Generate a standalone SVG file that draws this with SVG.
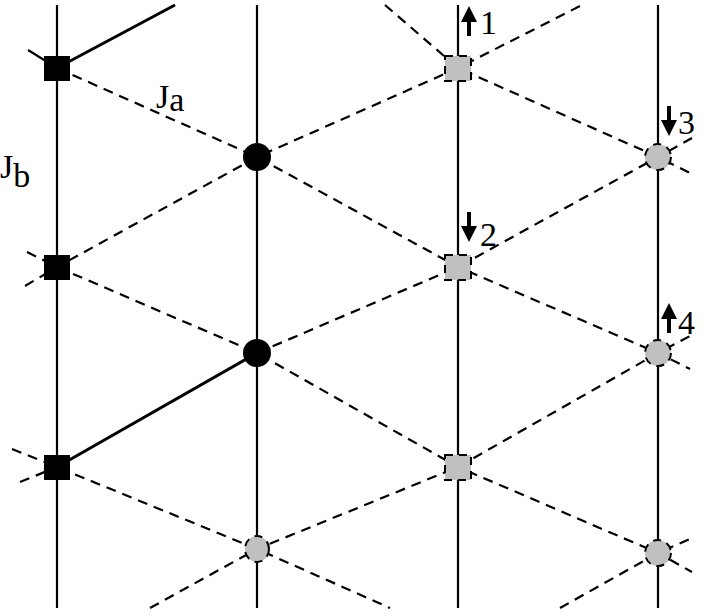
<svg xmlns="http://www.w3.org/2000/svg" width="707" height="616" viewBox="0 0 707 616">
<style>
.v{stroke:#000;stroke-width:2.2;fill:none}
.d{stroke:#000;stroke-width:2.2;fill:none;stroke-dasharray:10 7}
.s{stroke:#000;stroke-width:3;fill:none}
.t{font-family:"Liberation Serif","DejaVu Serif",serif;font-size:34px;fill:#000}
.g{fill:#c0c0c0;stroke:#000;stroke-width:2;stroke-dasharray:8 6}
</style>
<defs><marker id="ah" markerWidth="4" markerHeight="4" refX="2" refY="2" orient="auto" markerUnits="strokeWidth"><path d="M0,0L4,2L0,4Z" fill="#000"/></marker></defs>
<g id="connectors">
<line class="v" x1="57" y1="5" x2="57" y2="608"/>
<line class="v" x1="257" y1="5" x2="257" y2="608"/>
<line class="v" x1="458" y1="5" x2="458" y2="608"/>
<line class="v" x1="658" y1="5" x2="658" y2="608"/>
<polyline class="d" points="57,68 257,157 458,267 658,353 690,369"/>
<polyline class="d" points="27,252 57,267 257,353 458,467 658,553 692,572"/>
<polyline class="d" points="12,449 57,467 257,549 390,608"/>
<polyline class="d" points="385,5 458,68 658,157 692,174"/>
<polyline class="d" points="20,482 57,467"/>
<polyline class="d" points="257,353 458,267 658,157 692,138"/>
<polyline class="d" points="25,286 57,267 257,157 458,68 582,5"/>
<polyline class="d" points="150,608 257,549 458,467 658,353 692,335"/>
<polyline class="d" points="560,608 658,553 692,538"/>
<line class="v" x1="28" y1="50" x2="57" y2="68"/>
<line class="s" x1="57" y1="68" x2="175" y2="5"/>
<line class="s" x1="57" y1="467" x2="257" y2="353"/>
</g>
<g id="n1"><rect x="44" y="56" width="26" height="25"/></g>
<g id="n2"><rect x="44" y="255" width="26" height="25"/></g>
<g id="n3"><rect x="44" y="455" width="26" height="25"/></g>
<g id="n4"><circle cx="257" cy="157" r="14"/></g>
<g id="n5"><circle cx="257" cy="353" r="14"/></g>
<g id="n6"><ellipse class="g" cx="257" cy="549" rx="12" ry="13"/></g>
<g id="n7"><rect class="g" x="445" y="56" width="26" height="25"/></g>
<g id="n8"><rect class="g" x="445" y="255" width="26" height="25"/></g>
<g id="n9"><rect class="g" x="445" y="455" width="26" height="25"/></g>
<g id="n10"><circle class="g" cx="658" cy="157" r="13"/></g>
<g id="n11"><circle class="g" cx="658" cy="353" r="13"/></g>
<g id="n12"><circle class="g" cx="658" cy="553" r="13"/></g>
<g id="arrows" stroke="#000" stroke-width="4">
<line x1="469" y1="36" x2="469" y2="14" marker-end="url(#ah)"/>
<line x1="469" y1="212" x2="469" y2="234" marker-end="url(#ah)"/>
<line x1="669" y1="106" x2="669" y2="128" marker-end="url(#ah)"/>
<line x1="669" y1="333" x2="669" y2="311" marker-end="url(#ah)"/>
</g>
<g id="labels">
<text class="t" x="480" y="34">1</text>
<text class="t" x="480" y="246">2</text>
<text class="t" x="678" y="134">3</text>
<text class="t" x="678" y="334">4</text>
<text class="t" x="156" y="108" font-size="46">J<tspan font-size="34" dy="3">a</tspan></text>
<text class="t" x="0" y="178" font-size="46">J<tspan font-size="34" dy="9">b</tspan></text>
</g>
</svg>
